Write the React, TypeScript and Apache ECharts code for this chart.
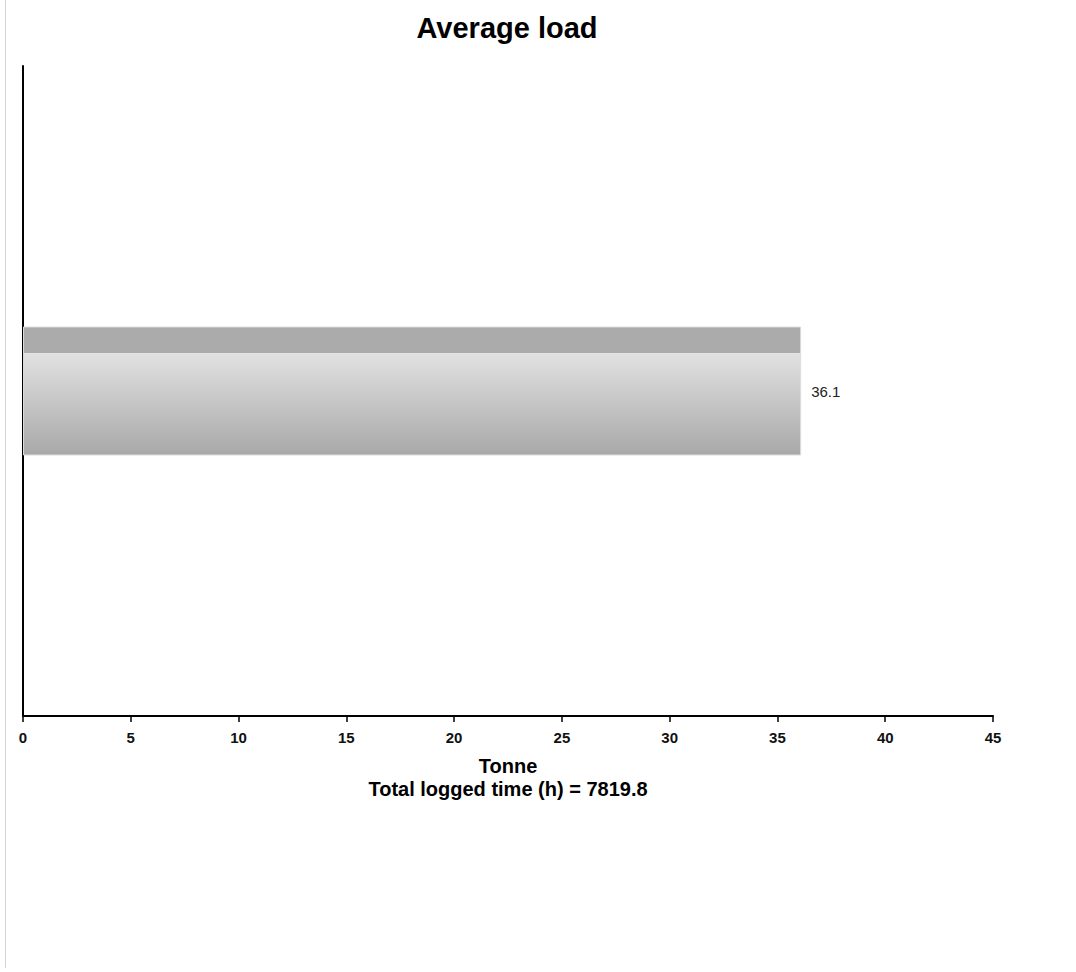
import React, { useEffect, useRef } from "react";
import * as echarts from "echarts";

const categories = ["Average load"];
const values = [36.1];
const xTicks = { min: 0, max: 45, interval: 5 };
const titleText = "Average load";
const axisNameLines = ["Tonne", "Total logged time (h) = 7819.8"];

export default function App() {
  const ref = useRef<HTMLDivElement>(null);
  useEffect(() => {
    const chart = echarts.init(ref.current!, null, { renderer: "svg" });
    chart.setOption({
      animation: false,
      backgroundColor: "#ffffff",
      textStyle: { fontFamily: "Liberation Sans, Arial, sans-serif" },
      grid: { left: 23, right: 83, top: 66, bottom: 256, containLabel: false },
      graphic: [
        {
          type: "line",
          shape: { x1: 5.5, y1: 0, x2: 5.5, y2: 968 },
          style: { stroke: "#d4d4d4", lineWidth: 1 },
        },
        {
          type: "text",
          x: 507,
          y: 28,
          style: {
            text: titleText,
            textAlign: "center",
            textVerticalAlign: "middle",
            font: "bold 29px 'Liberation Sans', Arial, sans-serif",
            fill: "#000",
          },
        },
      ],
      xAxis: {
        type: "value",
        min: xTicks.min,
        max: xTicks.max,
        interval: xTicks.interval,
        name: axisNameLines.join("\n"),
        nameLocation: "middle",
        nameGap: 38,
        nameTextStyle: {
          fontSize: 20,
          fontWeight: "bold",
          color: "#000",
          lineHeight: 23,
          fontFamily: "Liberation Sans, Arial, sans-serif",
        },
        axisLine: { show: true, lineStyle: { color: "#000", width: 2 } },
        axisTick: { show: true, length: 6, lineStyle: { color: "#000", width: 1.5 } },
        axisLabel: {
          margin: 14,
          fontSize: 15,
          fontWeight: "bold",
          color: "#111",
          fontFamily: "Liberation Sans, Arial, sans-serif",
        },
        splitLine: { show: false },
      },
      yAxis: {
        type: "category",
        data: categories,
        axisLine: { show: true, lineStyle: { color: "#000", width: 2 } },
        axisTick: { show: false },
        axisLabel: { show: false },
        splitLine: { show: false },
      },
      series: [
        {
          type: "bar",
          data: values,
          barWidth: 129,
          itemStyle: {
            color: new echarts.graphic.LinearGradient(0, 0, 0, 1, [
              { offset: 0, color: "#ababab" },
              { offset: 0.2, color: "#ababab" },
              { offset: 0.2, color: "#e2e2e2" },
              { offset: 1, color: "#a8a8a8" },
            ]),
            borderColor: "#dcdcdc",
            borderWidth: 1,
          },
          label: {
            show: true,
            position: "right",
            distance: 10,
            fontSize: 15,
            color: "#222",
            fontFamily: "Liberation Sans, Arial, sans-serif",
          },
        },
      ],
    });
    return () => chart.dispose();
  }, []);
  return (
    <div
      ref={ref}
      style={{ position: "fixed", left: 0, top: 0, width: 1076, height: 972 }}
    />
  );
}
